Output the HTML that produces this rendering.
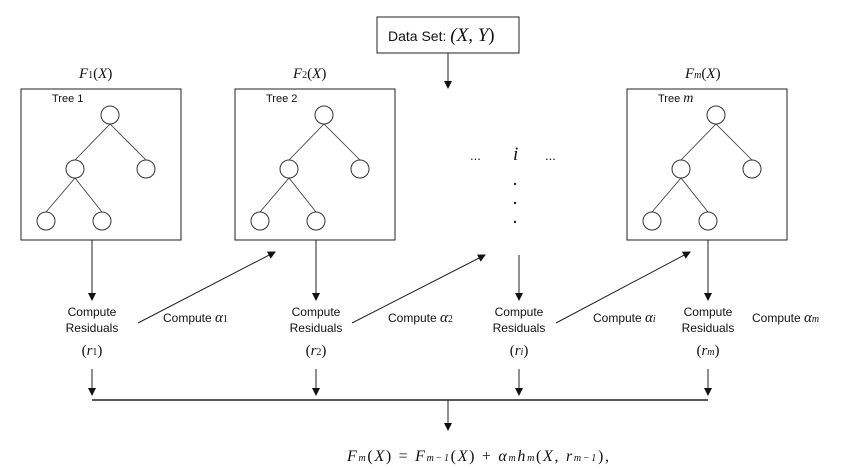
<!DOCTYPE html>
<html><head><meta charset="utf-8"><style>
html,body{margin:0;padding:0;background:#fff;}
svg{display:block;}
text{font-family:"Liberation Sans",sans-serif;fill:#111;}
.m{font-family:"Liberation Serif",serif;font-style:italic;}
</style></head><body>
<svg width="844" height="469" viewBox="0 0 844 469">
<defs><marker id="ah" markerWidth="8" markerHeight="8" refX="7" refY="4" orient="auto" markerUnits="userSpaceOnUse"><path d="M0,0 L8,4 L0,8 z" fill="#111"/></marker></defs>
<g stroke="#222" stroke-width="1" fill="none">
<rect x="377" y="17" width="142" height="36"/>
<line x1="448" y1="53" x2="448" y2="88" marker-end="url(#ah)"/>
</g>
<text x="388" y="41" font-size="14">Data Set: <tspan class="m" font-size="19" font-style="normal" font-family="Liberation Serif">(</tspan><tspan class="m" font-size="19">X</tspan><tspan font-size="19" font-family="Liberation Serif">, </tspan><tspan class="m" font-size="19">Y</tspan><tspan font-size="19" font-family="Liberation Serif">)</tspan></text>

<g id="trees"></g>

<text x="470" y="160" font-size="13">...</text>
<text x="513" y="160" font-size="19" class="m">i</text>
<text x="545" y="160" font-size="13">...</text>
<g fill="#222"><circle cx="515" cy="184" r="1.2"/><circle cx="515" cy="203" r="1.2"/><circle cx="515" cy="222" r="1.2"/></g>

<g stroke="#222" stroke-width="1" fill="none">
<line x1="92" y1="240" x2="92" y2="300" marker-end="url(#ah)"/>
<line x1="316" y1="240" x2="316" y2="300" marker-end="url(#ah)"/>
<line x1="519" y1="255" x2="519" y2="300" marker-end="url(#ah)"/>
<line x1="708" y1="240" x2="708" y2="300" marker-end="url(#ah)"/>
<line x1="138" y1="323" x2="275" y2="252" marker-end="url(#ah)"/>
<line x1="352" y1="323" x2="485" y2="255" marker-end="url(#ah)"/>
<line x1="556" y1="323" x2="690" y2="252" marker-end="url(#ah)"/>
<line x1="92" y1="369" x2="92" y2="395" marker-end="url(#ah)"/>
<line x1="316" y1="369" x2="316" y2="395" marker-end="url(#ah)"/>
<line x1="519" y1="369" x2="519" y2="395" marker-end="url(#ah)"/>
<line x1="708" y1="369" x2="708" y2="395" marker-end="url(#ah)"/>
<line x1="92" y1="400" x2="708" y2="400" stroke-width="1.5"/>
<line x1="448" y1="400" x2="448" y2="430" marker-end="url(#ah)"/>
</g>
<g font-size="12" text-anchor="middle">
<text x="92" y="316">Compute</text><text x="92" y="332">Residuals</text>
<text x="316" y="316">Compute</text><text x="316" y="332">Residuals</text>
<text x="519" y="316">Compute</text><text x="519" y="332">Residuals</text>
<text x="708" y="316">Compute</text><text x="708" y="332">Residuals</text>
</g>
<g font-size="15" text-anchor="middle" font-family="Liberation Serif">
<text x="92" y="355" style="font-family:'Liberation Serif',serif">(<tspan font-style="italic">r</tspan><tspan font-size="10">1</tspan>)</text>
<text x="316" y="355" style="font-family:'Liberation Serif',serif">(<tspan font-style="italic">r</tspan><tspan font-size="10">2</tspan>)</text>
<text x="519" y="355" style="font-family:'Liberation Serif',serif">(<tspan font-style="italic">r</tspan><tspan font-size="10" font-style="italic">i</tspan>)</text>
<text x="708" y="355" style="font-family:'Liberation Serif',serif">(<tspan font-style="italic">r</tspan><tspan font-size="10" font-style="italic">m</tspan>)</text>
</g>
<g font-size="12">
<text x="163" y="322">Compute <tspan class="m" font-size="15">α</tspan><tspan font-size="10" font-family="Liberation Serif">1</tspan></text>
<text x="388" y="322">Compute <tspan class="m" font-size="15">α</tspan><tspan font-size="10" font-family="Liberation Serif">2</tspan></text>
<text x="593" y="322">Compute <tspan class="m" font-size="15">α</tspan><tspan font-size="10" class="m">i</tspan></text>
<text x="752" y="322">Compute <tspan class="m" font-size="15">α</tspan><tspan font-size="10" class="m">m</tspan></text>
</g>
<text x="347" y="461" font-size="16" textLength="262" lengthAdjust="spacing" style="font-family:'Liberation Serif',serif"><tspan font-style="italic">F</tspan><tspan font-size="10" font-style="italic">m</tspan>(<tspan font-style="italic">X</tspan>) = <tspan font-style="italic">F</tspan><tspan font-size="10" font-style="italic">m−1</tspan>(<tspan font-style="italic">X</tspan>) + <tspan font-style="italic">α</tspan><tspan font-size="10" font-style="italic">m</tspan><tspan font-style="italic">h</tspan><tspan font-size="10" font-style="italic">m</tspan>(<tspan font-style="italic">X</tspan>, <tspan font-style="italic">r</tspan><tspan font-size="10" font-style="italic">m−1</tspan>),</text>
</svg>
<script>
const boxes=[21,235,627];
const labels=[["1","Tree 1"],["2","Tree 2"],["m","Tree "]];
const g=document.getElementById('trees');
const ns='http://www.w3.org/2000/svg';
function mk(t,a){const e=document.createElementNS(ns,t);for(const k in a)e.setAttribute(k,a[k]);g.appendChild(e);return e;}
boxes.forEach((x,i)=>{
 const r=mk('rect',{x:x,y:89,width:160,height:151,fill:'none',stroke:'#222'});
 
 
 const n=[[x+89,115],[x+54,169],[x+125,169],[x+25,221],[x+81,221]];
 const ed=[[0,1],[0,2],[1,3],[1,4]];
 ed.forEach(([a,b])=>mk('line',{x1:n[a][0],y1:n[a][1]+9,x2:n[b][0],y2:n[b][1]-9,stroke:'#333','stroke-width':0.8}));
 n.forEach(p=>{const c=mk('circle',{cx:p[0],cy:p[1],r:9,fill:'#fff',stroke:'#333'});});
 const t=mk('text',{x:x+31,y:102,'font-size':11});t.textContent=labels[i][1];
 if(i==2){const s=document.createElementNS(ns,'tspan');s.setAttribute('class','m');s.setAttribute('font-size','14');s.textContent='m';t.appendChild(s);}
 const f=mk('text',{x:x+58,y:78,'font-size':15,style:"font-family:'Liberation Serif',serif"});
 f.innerHTML='<tspan font-style="italic">F</tspan><tspan font-size="10" font-style="'+(i==2?'italic':'normal')+'">'+labels[i][0]+'</tspan>(<tspan font-style="italic">X</tspan>)';
});
</script>
</body></html>
